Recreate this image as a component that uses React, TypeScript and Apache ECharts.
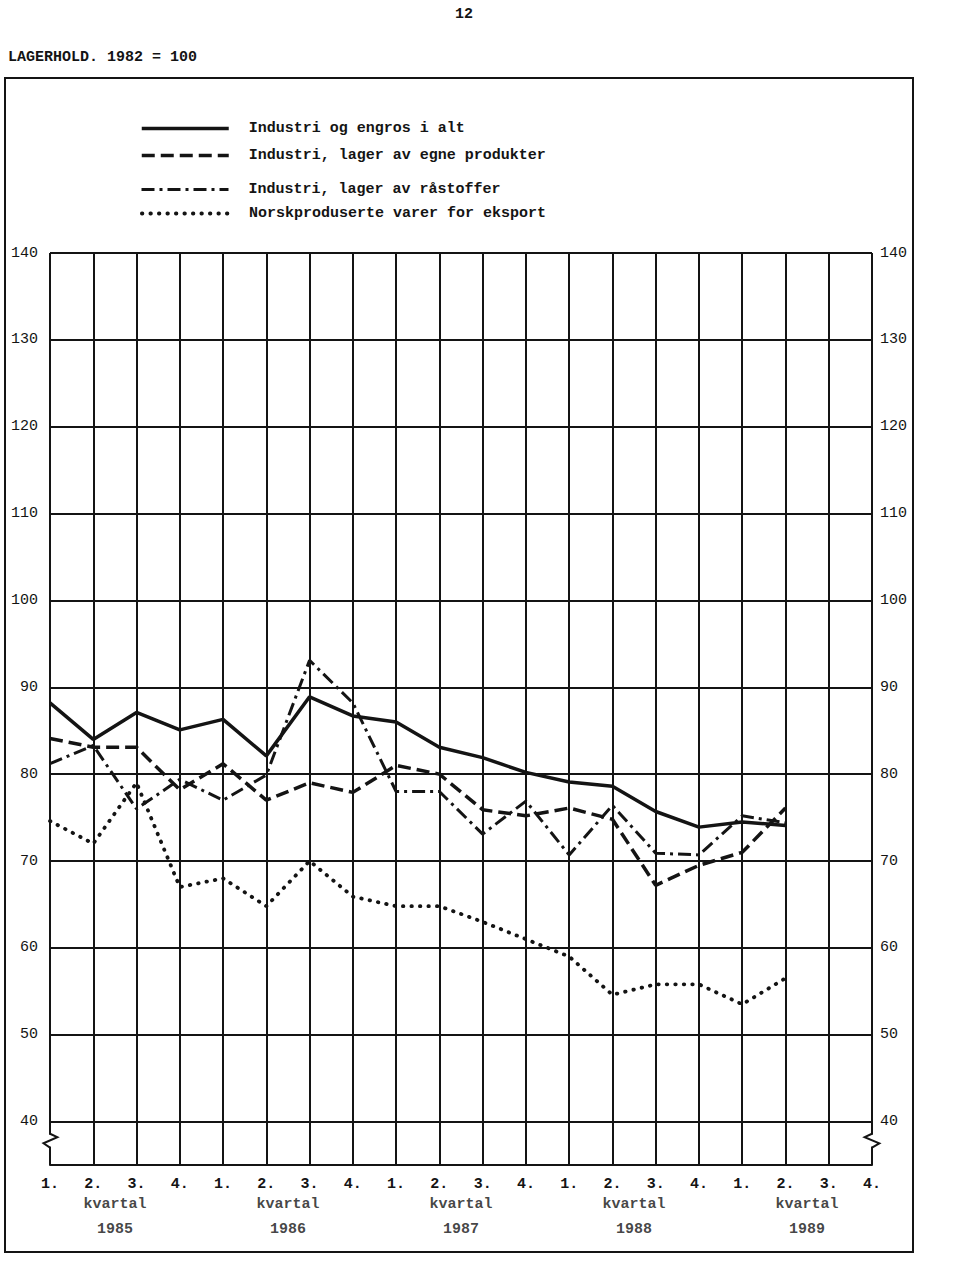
import React, { useEffect, useRef } from "react";
import * as echarts from "echarts";

const quarterLabels = [
  "1.", "2.", "3.", "4.",
  "1.", "2.", "3.", "4.",
  "1.", "2.", "3.", "4.",
  "1.", "2.", "3.", "4.",
  "1.", "2.", "3.", "4.",
];
const yearLabels = ["1985", "1986", "1987", "1988", "1989"];
const yearCentres = [1.5, 5.5, 9.5, 13.5, 17.5];
const yTickValues = [40, 50, 60, 70, 80, 90, 100, 110, 120, 130, 140];

const seriesNames = [
  "Industri og engros i alt",
  "Industri, lager av egne produkter",
  "Industri, lager av råstoffer",
  "Norskproduserte varer for eksport",
];

const totalIndustry = [88.2, 84.0, 87.1, 85.1, 86.3, 82.1, 88.9, 86.7, 86.0, 83.1, 81.9, 80.2, 79.1, 78.6, 75.7, 73.9, 74.5, 74.1];
const ownProducts = [84.1, 83.1, 83.1, 78.2, 81.2, 77.0, 79.0, 77.9, 81.0, 80.0, 75.9, 75.2, 76.1, 74.8, 67.2, 69.5, 71.0, 76.1];
const rawMaterials = [81.2, 83.3, 76.0, 79.4, 77.0, 79.9, 93.1, 88.2, 78.0, 78.0, 73.1, 76.9, 70.7, 76.4, 70.9, 70.7, 75.2, 74.4];
const exportGoods = [74.6, 72.0, 79.0, 67.0, 68.0, 64.8, 70.0, 65.9, 64.8, 64.8, 63.0, 61.0, 59.0, 54.6, 55.8, 55.8, 53.5, 56.5];

const breakLeft = [[0, 38.6], [0.17, 38.2], [-0.15, 37.5], [0, 37.0]];
const breakRight = [[19, 38.6], [18.83, 38.2], [19.17, 37.5], [19, 37.0]];

const FONT = "Liberation Mono";
const INK = "#141414";

export default function App() {
  const ref = useRef<HTMLDivElement>(null);

  useEffect(() => {
    if (!ref.current) return;
    const chart = echarts.init(ref.current, undefined, { renderer: "svg" });

    const legendTops = [116, 143, 177, 201];
    const styles: any[] = [
      { type: "solid", width: 3.5 },
      { type: [13, 6], width: 3.5 },
      { type: [13, 5, 3, 5], width: 3 },
      { type: [0.5, 8], width: 3.8, cap: "round" },
    ];
    const datasets = [totalIndustry, ownProducts, rawMaterials, exportGoods];

    const yLabel = (v: number) => (yTickValues.includes(v) ? String(v) : "");
    const txt = { fontFamily: FONT, fontSize: 15, fontWeight: "bold", color: INK };

    chart.setOption({
      animation: false,
      backgroundColor: "#ffffff",
      title: [
        { text: "12", left: 450, top: 2, textStyle: txt },
        { text: "LAGERHOLD. 1982 = 100", left: 3, top: 45, textStyle: txt },
      ],
      legend: seriesNames.map((n, i) => ({
        data: [n],
        left: 135,
        top: legendTops[i],
        itemWidth: 87,
        itemHeight: 14,
        selectedMode: false,
        itemStyle: { opacity: 0 },
        lineStyle: { color: INK, ...styles[i] },
        textStyle: { ...txt, padding: [0, 0, 0, 15] },
      })),
      graphic: [
        {
          type: "rect",
          silent: true,
          z: -1,
          shape: { x: 5, y: 78, width: 908, height: 1174 },
          style: { fill: "none", stroke: INK, lineWidth: 2 },
        },
      ],
      grid: { left: 50, right: 88, top: 253, bottom: 103 },
      xAxis: [
        {
          type: "category",
          data: quarterLabels,
          boundaryGap: false,
          axisLine: { show: true, lineStyle: { color: INK, width: 2 } },
          axisTick: { show: false },
          axisLabel: { interval: 0, margin: 12, ...txt },
          splitLine: { show: true, interval: 0, lineStyle: { color: INK, width: 2 } },
        },
        { type: "value", min: 0, max: 19, show: false },
      ],
      yAxis: [
        {
          type: "value",
          min: 35,
          max: 140,
          interval: 5,
          position: "left",
          axisLine: { show: false },
          axisTick: { show: false },
          axisLabel: { formatter: yLabel, margin: 12, ...txt, fontWeight: "normal" },
          splitLine: { show: true, lineStyle: { color: ["rgba(0,0,0,0)", INK], width: 2 } },
        },
        {
          type: "value",
          min: 35,
          max: 140,
          interval: 5,
          position: "right",
          axisLine: { show: false },
          axisTick: { show: false },
          axisLabel: { formatter: yLabel, margin: 8, ...txt, fontWeight: "normal" },
          splitLine: { show: false },
        },
      ],
      series: [
        ...datasets.map((d, i) => ({
          name: seriesNames[i],
          type: "line",
          data: d,
          symbol: "none",
          lineStyle: { color: INK, ...styles[i] },
          itemStyle: { color: INK },
          z: 5,
        })),
        {
          type: "scatter",
          xAxisIndex: 1,
          data: yearCentres.map((c) => [c, 35]),
          symbolSize: 1,
          clip: false,
          silent: true,
          itemStyle: { color: "rgba(0,0,0,0)" },
          label: {
            show: true,
            position: "bottom",
            distance: 26,
            formatter: (p: any) => `kvartal\n${yearLabels[p.dataIndex]}`,
            ...txt,
            lineHeight: 25,
          },
        },
      ],
    });

    const toPx = (pts: number[][]) =>
      pts.map((p) => chart.convertToPixel({ xAxisIndex: 1, yAxisIndex: 0 }, p) as number[]);
    const breakShape = (pts: number[][]) => {
      const px = toPx(pts);
      const top = px[0];
      const bottom = px[px.length - 1];
      return [
        {
          type: "line",
          silent: true,
          z: 10,
          shape: { x1: top[0], y1: top[1] + 1, x2: bottom[0], y2: bottom[1] - 1 },
          style: { stroke: "#ffffff", lineWidth: 4 },
        },
        {
          type: "polyline",
          silent: true,
          z: 11,
          shape: { points: px },
          style: { stroke: INK, lineWidth: 2, fill: "none" },
        },
      ];
    };

    chart.setOption({
      graphic: [
        {
          type: "rect",
          silent: true,
          z: -1,
          shape: { x: 5, y: 78, width: 908, height: 1174 },
          style: { fill: "none", stroke: INK, lineWidth: 2 },
        },
        ...breakShape(breakLeft),
        ...breakShape(breakRight),
      ],
    });

    return () => chart.dispose();
  }, []);

  return (
    <div
      ref={ref}
      style={{ position: "absolute", left: 0, top: 0, width: 960, height: 1268 }}
    />
  );
}
